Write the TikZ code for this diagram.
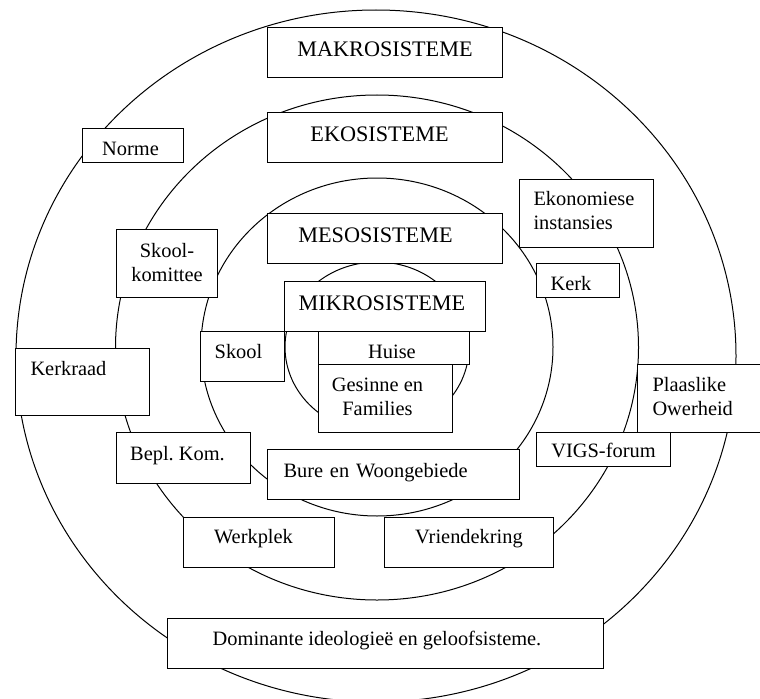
\documentclass[tikz,border=0pt]{standalone}
\usepackage{fontspec}
\setmainfont{Liberation Serif}
\frenchspacing
\newcommand\fsnorm{\fontsize{15.3pt}{18pt}\selectfont}
\newcommand\fsbig{\fontsize{16.65pt}{20pt}\selectfont}
\tikzset{
  ring/.style={draw=black, line width=0.75pt},
  box/.style={draw=black, fill=white, line width=0.75pt, inner sep=0pt, anchor=north west, font=\fsnorm},
  bigtxt/.style={font=\fsbig},
}
\begin{document}
\begin{tikzpicture}[x=0.75pt, y=-0.75pt]
\useasboundingbox (0,0) rectangle (760,699);
% rings
\draw[ring] (376,356) ellipse [x radius=270pt, y radius=259.5pt];
\draw[ring] (377,347.5) ellipse [x radius=196.125pt, y radius=189.375pt];
\draw[ring] (377,347) ellipse [x radius=132pt, y radius=126.75pt];
\draw[ring] (377,347) ellipse [x radius=69pt, y radius=63.75pt];
% system titles
\node[box, bigtxt, minimum width=176.25pt, minimum height=37.5pt, text height=21.75pt, text depth=15.75pt] (makro) at (267,27) {MAKROSISTEME};
\node[box, bigtxt, minimum width=176.25pt, minimum height=37.5pt, text height=21.75pt, text depth=15.75pt] (eko) at (267,112) {EKOSISTEME\hspace*{8.25pt}};
\node[box, bigtxt, minimum width=176.25pt, minimum height=37.5pt, text height=21.75pt, text depth=15.75pt] (meso) at (267,213) {MESOSISTEME\hspace*{14.25pt}};
\node[box, bigtxt, minimum width=150.75pt, minimum height=37.5pt, text height=21.75pt, text depth=15.75pt] (mikro) at (284,281) {MIKROSISTEME\hspace*{4.5pt}};
% inner boxes
\node[box, minimum width=113.25pt, minimum height=24.75pt, text height=20.25pt, text depth=4.5pt] (huise) at (318,331) {Huise\hspace*{3pt}};
\node[box, minimum width=100.5pt, minimum height=51pt, text height=19.9pt, text depth=31.1pt] (gesinne) at (318,364) {\begin{tabular}[t]{@{}c@{\hspace*{12pt}}}Gesinne en\\Families\end{tabular}};
\node[box, minimum width=63pt, minimum height=37.5pt, text height=20.25pt, text depth=17.25pt] (skool) at (200,331) {Skool\hspace*{6pt}};
\node[box, minimum width=75.75pt, minimum height=25.5pt, text height=20.25pt, text depth=5.25pt] (norme) at (82,128) {Norme\hspace*{3.75pt}};
\node[box, align=center, text width=75.75pt, minimum width=75.75pt, minimum height=51pt, text height=20.75pt, text depth=30.25pt] (komitee) at (116,229) {Skool-\\komittee};
\node[box, align=left, text width=78pt, minimum width=100.5pt, minimum height=50.25pt, text height=20.25pt, text depth=30pt] (kerkraad) at (15,348) {Kerkraad};
\node[box, minimum width=100.5pt, minimum height=38.25pt, text height=21pt, text depth=17.25pt] (bepl) at (116,432) {Bepl.\ Kom.\hspace*{9pt}};
\node[box, align=left, text width=165pt, minimum width=189pt, minimum height=37.5pt, text height=20.75pt, text depth=16.75pt] (bure) at (267,449) {Bure en Woongebiede};
\node[box, minimum width=113.25pt, minimum height=37.5pt, text height=19.75pt, text depth=17.75pt] (werkplek) at (183,517) {Werkplek\hspace*{8.25pt}};
\node[box, minimum width=126.75pt, minimum height=37.5pt, text height=19.75pt, text depth=17.75pt] (vriende) at (384,517) {Vriendekring};
\node[box, minimum width=327pt, minimum height=37.5pt, text height=20.25pt, text depth=17.25pt] (dominante) at (167,618) {Dominante ideologieë en geloofsisteme.\hspace*{12.75pt}};
\node[box, align=left, text width=79.5pt, minimum width=100.5pt, minimum height=51pt, text height=19.5pt, text depth=31.5pt] (ekonomie) at (519,179) {Ekonomiese\\instansies};
\node[box, minimum width=62.25pt, minimum height=25.5pt, text height=20.25pt, text depth=5.25pt] (kerk) at (536,263) {Kerk\hspace*{10.5pt}};
\node[box, align=left, text width=79.5pt, minimum width=102pt, minimum height=51pt, text height=20pt, text depth=31pt] (owerheid) at (637,364) {Plaaslike\\Owerheid};
\node[box, minimum width=100.5pt, minimum height=25.5pt, text height=19pt, text depth=6.5pt] (vigs) at (536,432) {VIGS-forum};
\end{tikzpicture}
\end{document}
